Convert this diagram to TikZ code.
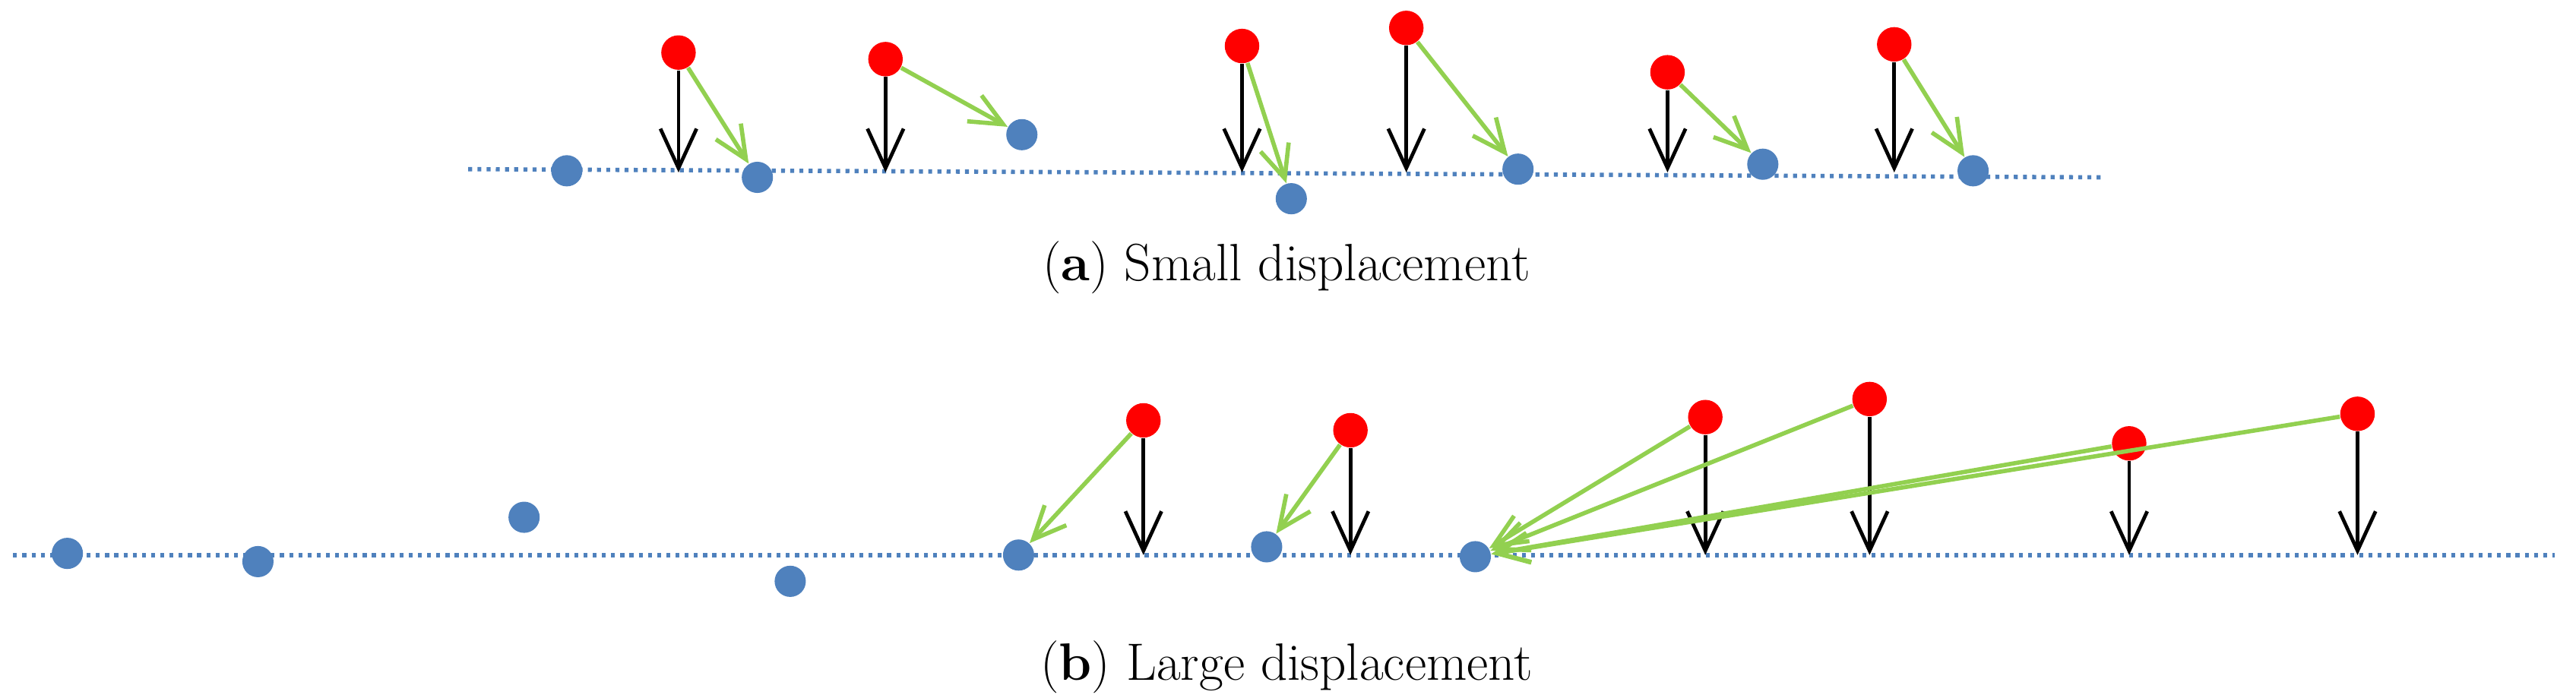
\documentclass[tikz,border=0pt]{standalone}
\usetikzlibrary{arrows.meta}
\begin{document}
\begin{tikzpicture}[x=0.5pt,y=-0.5pt,
  bdot/.style={circle,fill={rgb,255:red,79;green,129;blue,189},inner sep=0pt,minimum size=9.5pt},
  rdot/.style={circle,fill=red,inner sep=0pt,minimum size=10.5pt},
  base/.style={draw={rgb,255:red,79;green,129;blue,189},line width=1.3pt,dash pattern=on 1.2pt off 1.6pt},
  down/.style={line width=1.1pt,-{Straight Barb[length=12pt,width=11pt,line width=1.1pt]}},
  disp/.style={draw={rgb,255:red,146;green,208;blue,80},line width=1.3pt,-{Straight Barb[length=10pt,width=9pt,line width=1.3pt]}},
  captxt/.style={font=\fontsize{16}{19}\selectfont}]
\useasboundingbox (0,0) rectangle (1568,425);
% panel a
\coordinate (la) at (285,103); \coordinate (ra) at (1280,108);
\draw[base] (la) -- (ra);
\foreach \n/\x/\y in {a1/345/104,a2/461/108,a3/622/82,a4/786/121,a5/924/103,a6/1073/100,a7/1201/104}
  \node[bdot] (\n) at (\x,\y) {};
\foreach \n/\x/\y in {r1/413/32,r2/539/36,r3/756/28,r4/856/17,r5/1015/44,r6/1153/27}
  {\node[rdot] (\n) at (\x,\y) {}; \coordinate (\n e) at (\x,105);}
\foreach \n in {r1,r2,r3,r4,r5,r6} \draw[down] (\n) -- (\n e);
\draw[disp] (r1) -- (a2); \draw[disp] (r2) -- (a3); \draw[disp] (r3) -- (a4);
\draw[disp] (r4) -- (a5); \draw[disp] (r5) -- (a6); \draw[disp] (r6) -- (a7);
\node[captxt] (ca) at (783,163) {(\textbf{a}) Small displacement};
% panel b
\coordinate (lb) at (8,338); \coordinate (rb) at (1555,338);
\draw[base] (lb) -- (rb);
\foreach \n/\x/\y in {b1/41/337,b2/157/342,b3/319/315,b4/481/354,b5/620/338,b6/771/333,b7/898/339}
  \node[bdot] (\n) at (\x,\y) {};
\foreach \n/\x/\y in {s1/696/256,s2/822/262,s3/1038/254,s4/1138/243,s5/1296/270,s6/1435/252}
  {\node[rdot] (\n) at (\x,\y) {}; \coordinate (\n e) at (\x,338);}
\foreach \n in {s1,s2,s3,s4,s5,s6} \draw[down] (\n) -- (\n e);
\draw[disp] (s1) -- (b5); \draw[disp] (s2) -- (b6);
\foreach \n in {s3,s4,s5,s6} \draw[disp] (\n) -- (b7);
\node[captxt] (cb) at (783,406) {(\textbf{b}) Large displacement};
\end{tikzpicture}
\end{document}
